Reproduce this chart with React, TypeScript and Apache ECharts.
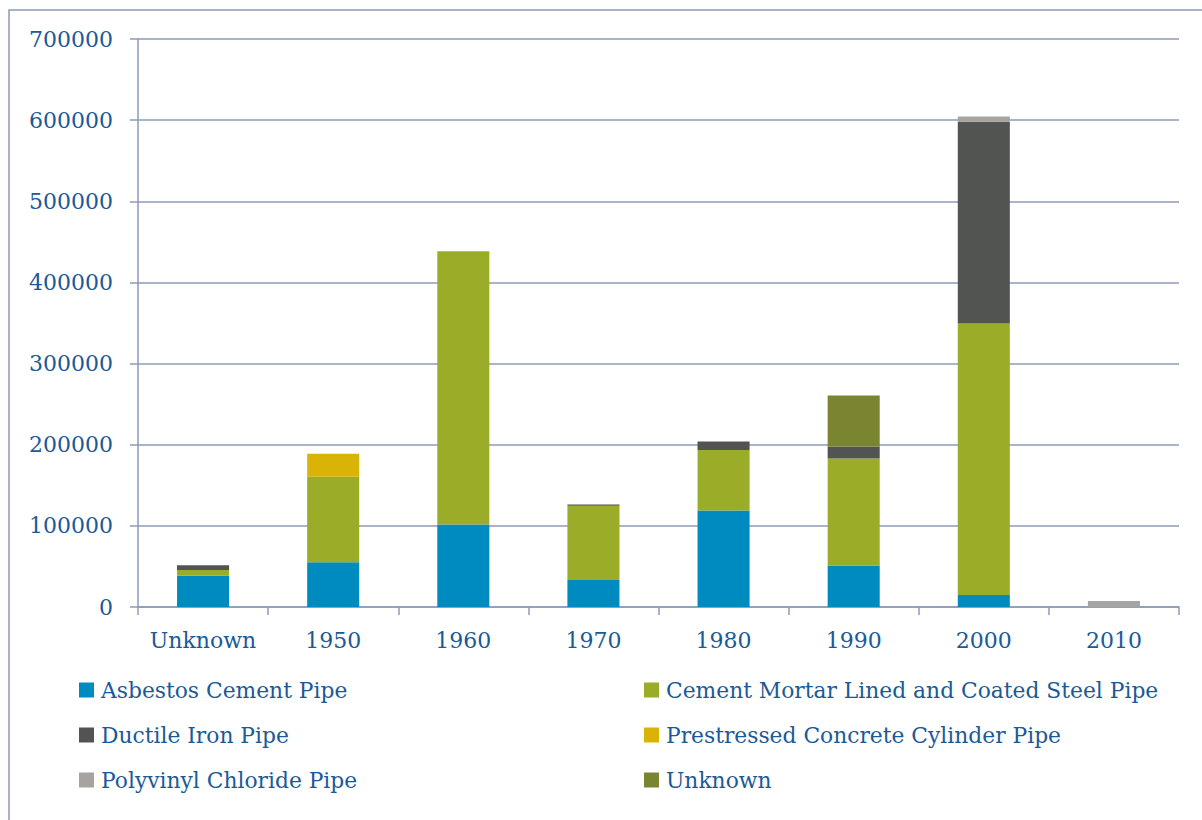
import React, { useEffect, useRef } from "react";
import * as echarts from "echarts";

// Pipe length installed by decade, stacked by material
const decades = ["Unknown", "1950", "1960", "1970", "1980", "1990", "2000", "2010"];

const asbestosCement = [38600, 55200, 101600, 33300, 118900, 51000, 14800, 0];
const cementMortarSteel = [7000, 105300, 336700, 91400, 74600, 132100, 334600, 0];
const ductileIron = [6000, 0, 0, 1500, 10600, 14800, 248500, 0];
const prestressedConcrete = [0, 28400, 0, 0, 0, 0, 0, 0];
const polyvinylChloride = [0, 0, 0, 0, 0, 0, 6700, 7400];
const unknownMaterial = [0, 0, 0, 0, 0, 62600, 0, 0];

const yTicks = { min: 0, max: 700000, interval: 100000 };

const seriesDefs = [
  { name: "Asbestos Cement Pipe", data: asbestosCement, color: "#008BC0" },
  { name: "Cement Mortar Lined and Coated Steel Pipe", data: cementMortarSteel, color: "#9AAC28" },
  { name: "Ductile Iron Pipe", data: ductileIron, color: "#525451" },
  { name: "Prestressed Concrete Cylinder Pipe", data: prestressedConcrete, color: "#D9B305" },
  { name: "Polyvinyl Chloride Pipe", data: polyvinylChloride, color: "#A7A39E" },
  { name: "Unknown", data: unknownMaterial, color: "#7A8431" },
];

const TEXT = "#1A5A98";
const LINE = "#8C9BB9";
const FONT = "'DejaVu Serif', serif";

export default function App() {
  const ref = useRef<HTMLDivElement>(null);

  useEffect(() => {
    if (!ref.current) return;
    const chart = echarts.init(ref.current, undefined, { renderer: "svg" });

    const legendBase = {
      orient: "vertical" as const,
      top: 679,
      padding: 0,
      itemWidth: 15,
      itemHeight: 15,
      itemGap: 23,
      icon: "rect",
      textStyle: { color: TEXT, fontFamily: FONT, fontSize: 21.8, padding: [0, 0, 0, 2] },
      selectedMode: false,
    };

    chart.setOption({
      animation: false,
      backgroundColor: "#ffffff",
      graphic: [
        {
          type: "rect",
          shape: { x: 9, y: 10, width: 1300, height: 900 },
          style: { fill: "none", stroke: LINE, lineWidth: 1.5 },
          silent: true,
        },
      ],
      grid: { left: 138, right: 23, top: 39, bottom: 213, containLabel: false },
      legend: [
        {
          ...legendBase,
          left: 79,
          data: [seriesDefs[0].name, seriesDefs[2].name, seriesDefs[4].name],
        },
        {
          ...legendBase,
          left: 644,
          data: [seriesDefs[1].name, seriesDefs[3].name, seriesDefs[5].name],
        },
      ],
      xAxis: {
        type: "category",
        data: decades,
        axisLine: { show: true, lineStyle: { color: LINE, width: 1.5 } },
        axisTick: { show: true, length: 8, interval: 0, alignWithLabel: false, lineStyle: { color: LINE, width: 1.5 } },
        axisLabel: { color: TEXT, fontFamily: FONT, fontSize: 22, margin: 22, interval: 0 },
        splitLine: { show: false },
      },
      yAxis: {
        type: "value",
        min: yTicks.min,
        max: yTicks.max,
        interval: yTicks.interval,
        axisLine: { show: true, lineStyle: { color: LINE, width: 1.5 } },
        axisTick: { show: true, length: 8, lineStyle: { color: LINE, width: 1.5 } },
        axisLabel: {
          color: TEXT,
          fontFamily: FONT,
          fontSize: 22,
          margin: 25,
          formatter: (v: number) => String(v),
        },
        splitLine: { show: true, lineStyle: { color: LINE, width: 1.5 } },
      },
      series: seriesDefs.map((s) => ({
        name: s.name,
        type: "bar",
        stack: "total",
        data: s.data,
        barWidth: "40%",
        itemStyle: { color: s.color },
        emphasis: { disabled: true },
      })),
    });

    return () => chart.dispose();
  }, []);

  return (
    <div
      ref={ref}
      style={{ position: "fixed", left: 0, top: 0, width: 1202, height: 820 }}
    />
  );
}
